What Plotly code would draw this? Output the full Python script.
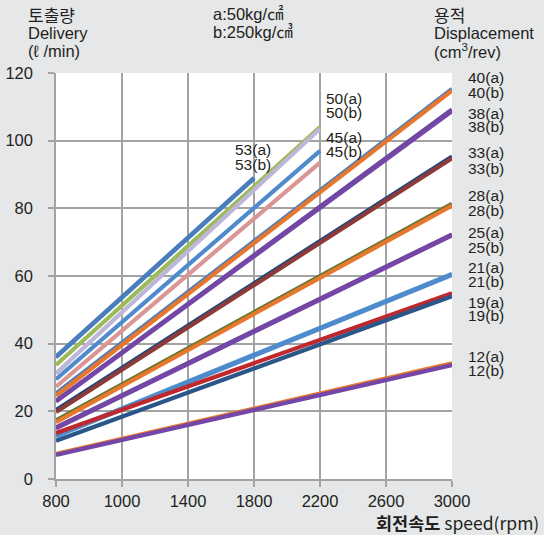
import plotly.graph_objects as go

# Speed categories (rpm), evenly spaced on the chart's category axis
speeds = ["800", "1000", "1400", "1800", "2200", "2600", "3000"]

# Each series: label, start speed, end speed, delivery at start, delivery at end (l/min)
names = ["53(a)", "53(b)", "50(a)", "50(b)", "45(a)", "45(b)",
         "40(a)", "40(b)", "38(a)", "38(b)", "33(a)", "33(b)",
         "28(a)", "28(b)", "25(a)", "25(b)", "21(a)", "21(b)",
         "19(a)", "19(b)", "12(a)", "12(b)"]
start_rpm = ["800"] * 22
end_rpm = ["1800", "1800", "2200", "2200", "2200", "2200"] + ["3000"] * 16
q_start = [36.2, 36.0, 33.7, 31.2, 29.5, 27.3,
           25.3, 24.6, 23.1, 22.9, 20.4, 19.8,
           17.3, 16.8, 15.3, 15.0, 12.9, 12.6,
           13.6, 11.3, 7.4, 7.1]
q_end = [89.0, 88.8, 104.0, 103.5, 97.0, 93.5,
         115.3, 114.8, 109.2, 108.7, 95.3, 94.8,
         81.3, 80.8, 72.3, 72.0, 60.6, 60.3,
         54.9, 54.0, 34.2, 33.7]
colors = ["#4A7EBB", "#4A7EBB", "#9BBB59", "#BEB6D9", "#4F8BCB", "#D99694",
          "#4A7EBB", "#E8772E", "#6A4A96", "#7446A8", "#1F497D", "#8E3A38",
          "#5E7530", "#E8772E", "#6A4A96", "#7446A8", "#4A90D0", "#4F8BCB",
          "#C0282D", "#2A5788", "#E8772E", "#7446A8"]

# Displacement labels to the right of the plot (text, pixel y)
right_labels = ["40(a)", "40(b)", "38(a)", "38(b)", "33(a)", "33(b)",
                "28(a)", "28(b)", "25(a)", "25(b)", "21(a)", "21(b)",
                "19(a)", "19(b)", "12(a)", "12(b)"]
right_label_y = [77, 92, 113, 127, 152, 168, 195, 210, 233, 247,
                 267, 281, 302, 315, 356, 370]

W, H = 544, 535
L, R, T, B = 56, 92, 73, 56
PW, PH = W - L - R, H - T - B
FONT = "Liberation Sans, Arial, Noto Sans CJK KR, sans-serif"
KFONT = "Noto Sans CJK KR, Liberation Sans, sans-serif"
TXT = "#231F20"


def px(x):
    return (x - L) / PW


def py(y):
    return (T + PH - y) / PH


fig = go.Figure()
for n, s, e, a, b, c in zip(names, start_rpm, end_rpm, q_start, q_end, colors):
    fig.add_trace(go.Scatter(x=[s, e], y=[a, b], mode="lines", name=n,
                             line=dict(color=c, width=4.2),
                             hoverinfo="name+y"))

ann = []


def text(x, y, s, size=15, anchor="left", font=FONT):
    ann.append(dict(x=px(x), y=py(y), xref="paper", yref="paper", text=s,
                    showarrow=False, xanchor=anchor, yanchor="middle",
                    font=dict(family=font, size=size, color=TXT)))


# Header blocks
HS = 16.5
text(26, 14, "토출량", 17, font=KFONT)
text(26, 33, "Delivery", HS)
text(26, 51, "(ℓ /min)", HS)
text(211, 14, "a:50kg/㎠", HS)
text(211, 32, "b:250kg/㎤", HS)
text(432, 14, "용적", 17, font=KFONT)
text(432, 33, "Displacement", HS)
text(432, 51, "(cm<sup>3</sup>/rev)", HS)

# Series labels
for s, y in zip(right_labels, right_label_y):
    text(466, y, s, 15.5)
text(233, 149, "53(a)", 15.5)
text(233, 164, "53(b)", 15.5)
text(324, 98, "50(a)", 15.5)
text(324, 112, "50(b)", 15.5)
text(324, 137, "45(a)", 15.5)
text(324, 151, "45(b)", 15.5)

# Axis title
ann.append(dict(x=px(541), y=py(522), xref="paper", yref="paper",
                text="<b>회전속도</b> speed(rpm)", showarrow=False,
                xanchor="right", yanchor="middle",
                font=dict(family=KFONT, size=17.5, color=TXT)))

GRID = "#A3A3A3"
TICKF = dict(family=FONT, size=16.5, color=TXT)
fig.update_layout(
    width=W, height=H,
    margin=dict(l=L, r=R, t=T, b=B),
    paper_bgcolor="#E6E7E8", plot_bgcolor="#FFFFFF",
    showlegend=False,
    annotations=ann,
    xaxis=dict(type="category", categoryorder="array", categoryarray=speeds,
               range=[0, 6], showgrid=True, gridcolor=GRID, gridwidth=1.5,
               showline=True, linecolor=GRID, linewidth=1.5,
               ticks="outside", ticklen=6, tickcolor=GRID, tickwidth=1.5,
               tickfont=TICKF, zeroline=False, mirror=False,
               automargin=False),
    yaxis=dict(range=[0, 120], dtick=20, showgrid=True, gridcolor=GRID,
               gridwidth=1.5, showline=True, linecolor=GRID, linewidth=1.5,
               ticks="outside", ticklen=6, tickcolor=GRID, tickwidth=1.5,
               tickfont=TICKF, ticklabelstandoff=12, zeroline=False,
               automargin=False),
)

fig.write_html("out.html")
